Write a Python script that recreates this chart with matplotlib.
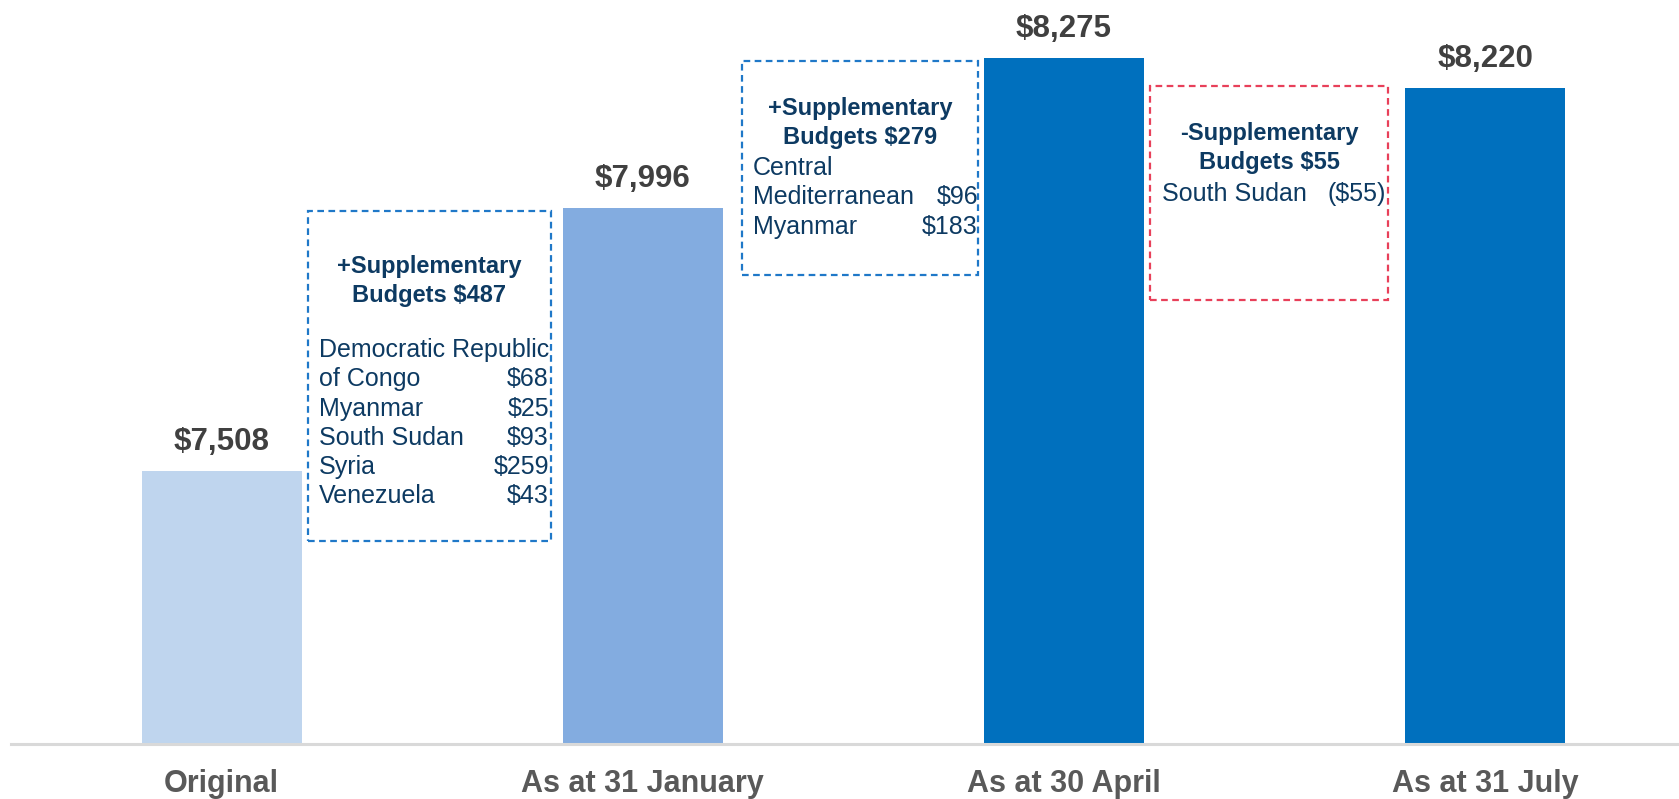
import matplotlib
matplotlib.use("Agg")
import matplotlib.pyplot as plt
from matplotlib.patches import Rectangle

# ---- data ----
categories = ["Original", "As at 31 January", "As at 30 April", "As at 31 July"]
values = [7508, 7996, 8275, 8220]
value_labels = ["$7,508", "$7,996", "$8,275", "$8,220"]
bar_colors = ["#BFD5EE", "#83ACE0", "#0070BE", "#0070BE"]

box1_title = "+Supplementary\nBudgets $487"
box1_names = ["Democratic Republic", "of Congo", "Myanmar", "South Sudan", "Syria", "Venezuela"]
box1_amounts = ["", "$68", "$25", "$93", "$259", "$43"]

box2_title = "+Supplementary\nBudgets $279"
box2_names = ["Central", "Mediterranean", "Myanmar"]
box2_amounts = ["", "$96", "$183"]

box3_title = "-Supplementary\nBudgets $55"
box3_names = ["South Sudan"]
box3_amounts = ["($55)"]

W, H = 1679, 799
plt.rcParams['font.family'] = ['Liberation Sans', 'DejaVu Sans']
fig = plt.figure(figsize=(W / 100, H / 100), dpi=100)
ax = fig.add_axes([11 / W, 55 / H, 1 - 11 / W, 1 - 55 / H])

x = list(range(len(categories)))
ax.bar(x, values, width=0.38, color=bar_colors, bottom=0)
ax.set_ylim(7000, 8383)
ax.set_xlim(-0.5, 3.46)

for xi, v, lab in zip(x, values, value_labels):
    ax.annotate(lab, (xi, v), xytext=(0, 15), textcoords="offset points",
                ha="center", va="baseline", fontsize=22.5, fontweight="bold",
                color="#404040")

ax.set_xticks(x)
ax.set_xticklabels(categories, fontsize=22, fontweight="bold", color="#595959")
ax.tick_params(axis="x", length=0, pad=18)
ax.set_yticks([])
for s in ["top", "right", "left"]:
    ax.spines[s].set_visible(False)
ax.spines["bottom"].set_color("#D9D9D9")
ax.spines["bottom"].set_linewidth(2.2)

navy = "#0D3A62"


def fx(px):
    return px / W


def fy(py):
    return 1 - py / H


def draw_box(x0, y0, x1, y1, color, title, title_y, names, amounts,
             first_y, left_x, right_x, step=29.3):
    rect = Rectangle((fx(x0), fy(y1)), fx(x1 - x0), (y1 - y0) / H,
                     transform=fig.transFigure, fill=False, edgecolor=color,
                     linewidth=1.6, linestyle=(0, (3, 2)))
    fig.add_artist(rect)
    cx = (x0 + x1) / 2
    fig.text(fx(cx), fy(title_y), title, ha="center", va="center",
             fontsize=17, fontweight="bold", color=navy, linespacing=1.3)
    for i, (n, a) in enumerate(zip(names, amounts)):
        yy = fy(first_y + i * step)
        fig.text(fx(left_x), yy, n, ha="left", va="center", fontsize=18, color=navy)
        if a:
            fig.text(fx(right_x), yy, a, ha="right", va="center", fontsize=18, color=navy)


draw_box(308, 211, 551, 541, "#1F78C8", box1_title, 281, box1_names, box1_amounts,
         350, 319, 549)
draw_box(742, 61, 978, 275, "#1F78C8", box2_title, 123, box2_names, box2_amounts,
         168, 753, 978)
draw_box(1150, 86, 1388, 300, "#E8405A", box3_title, 148, box3_names, box3_amounts,
         194, 1162, 1386)

fig.savefig("out.png", dpi=100)
